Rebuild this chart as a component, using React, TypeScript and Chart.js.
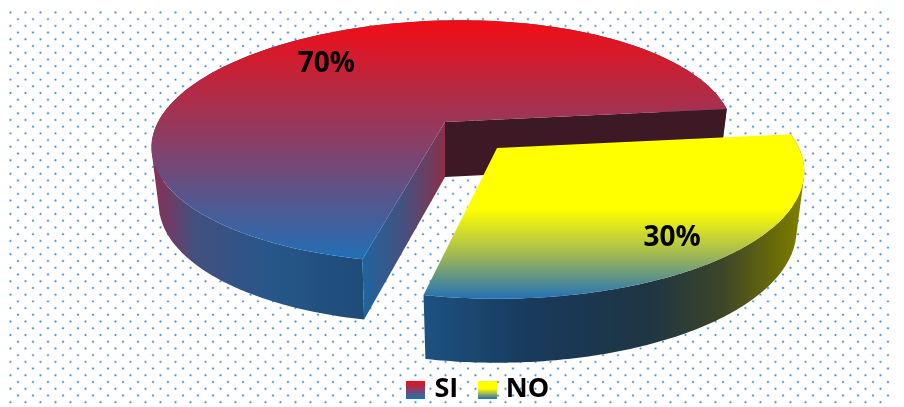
import React, { useEffect, useRef } from "react";
import { Chart, registerables } from "chart.js";

Chart.register(...registerables);

const categories = ["SI", "NO"];
const shares = [70, 30];
const labelReach = [0.72, 0.8];
const labelNudgeX = [2, -8];
const labelNudgeY = [0, 9];

const FONT = '"Open Sans", "Noto Sans", sans-serif';

type Stop = [number, string];
type Pt = { x: number; y: number };

// Perspective projection of the unit circle of each slice on to the page
const slices = [
  { cx: 445, cy: 122, rx: 287, ry: 118, tilt: 0.16, shear: -15, floorDrop: 55, floorGrow: 5.5 },
  { cx: 497, cy: 148, rx: 302, ry: 123, tilt: 0.184, shear: 0, floorDrop: 57, floorGrow: 7 },
];
const project = (s: any, ux: number, uy: number, floor: boolean): Pt => {
  const w = 1 - s.tilt * uy;
  const k = floor ? 0.975 : 1;
  const drop = floor ? s.floorDrop + s.floorGrow * uy : 0;
  return { x: s.cx + (k * s.rx * ux) / w + s.shear * uy, y: s.cy + (s.ry * uy) / w + drop };
};
const rim = (s: any, a0: number, a1: number, floor: boolean) => {
  const pts: Pt[] = [];
  const n = 160;
  for (let i = 0; i <= n; i++) {
    const a = a0 + ((a1 - a0) * i) / n;
    pts.push(project(s, Math.cos(a), Math.sin(a), floor));
  }
  return pts;
};

const grad = (ctx: CanvasRenderingContext2D, x0: number, y0: number, x1: number, y1: number, stops: Stop[]) => {
  const g = ctx.createLinearGradient(x0, y0, x1, y1);
  stops.forEach(([o, c]) => g.addColorStop(o, c));
  return g;
};
const fillPoly = (ctx: CanvasRenderingContext2D, pts: Pt[], fill: any) => {
  ctx.beginPath();
  pts.forEach((p, i) => (i ? ctx.lineTo(p.x, p.y) : ctx.moveTo(p.x, p.y)));
  ctx.closePath();
  ctx.fillStyle = fill;
  ctx.fill();
};
// the wall swept between the top rim and the floor rim
const fillWall = (ctx: CanvasRenderingContext2D, top: Pt[], floor: Pt[], fill: any) => {
  ctx.beginPath();
  for (let i = 0; i < top.length - 1; i++) {
    let q = [top[i], top[i + 1], floor[i + 1], floor[i]];
    let area = 0;
    q.forEach((p, j) => {
      const n = q[(j + 1) % 4];
      area += p.x * n.y - n.x * p.y;
    });
    if (area < 0) q = q.reverse();
    q.forEach((p, j) => (j ? ctx.lineTo(p.x, p.y) : ctx.moveTo(p.x, p.y)));
    ctx.closePath();
  }
  ctx.fillStyle = fill;
  ctx.fill("nonzero");
};

const redTop: Stop[] = [[0, "#f80a10"], [1, "#1f70b8"]];
const yellowTop: Stop[] = [[0, "#ffff00"], [0.45, "#ffff00"], [0.72, "#a6bb50"], [1, "#2472b4"]];

const swatch = (stops: Stop[]) => {
  const c = document.createElement("canvas");
  c.width = 19;
  c.height = 18;
  const x = c.getContext("2d")!;
  x.fillStyle = grad(x, 0, 0, 0, 18, stops);
  x.fillRect(0, 0, 19, 18);
  return c;
};

const dotBackground = {
  id: "dotBackground",
  beforeDraw(chart: any) {
    const ctx: CanvasRenderingContext2D = chart.ctx;
    ctx.save();
    let row = 0;
    for (let y = 12.4; y < 404; y += 6.72, row++) {
      for (let x = row % 2 ? 18 : 10.5; x < 890; x += 15) {
        ctx.beginPath();
        ctx.arc(x, y, 1.8, 0, Math.PI * 2);
        ctx.fillStyle = "rgba(120,170,225,0.2)";
        ctx.fill();
        ctx.beginPath();
        ctx.arc(x, y, 0.95, 0, Math.PI * 2);
        ctx.fillStyle = "#4a8cd0";
        ctx.fill();
      }
    }
    ctx.restore();
  },
};

const pie3d = {
  id: "pie3d",
  beforeDatasetsDraw(chart: any) {
    const ctx: CanvasRenderingContext2D = chart.ctx;
    const arcs = chart.getDatasetMeta(0).data;
    const [red, yellow] = slices;
    const r0 = arcs[0].startAngle, r1 = arcs[0].endAngle;
    const y0 = arcs[1].startAngle, y1 = arcs[1].endAngle;
    ctx.save();

    // red slice: outer wall, cut faces, top
    const rTop = rim(red, r0, r1, false);
    const rFloor = rim(red, r0, r1, true);
    fillWall(ctx, rTop, rFloor, grad(ctx, 152, 0, 366, 0, [
      [0, "#8a2f55"], [0.2, "#43507f"], [0.55, "#27568a"], [1, "#1d4c78"],
    ]));
    const apex = project(red, 0, 0, false);
    const apexFloor = project(red, 0, 0, true);
    fillPoly(ctx, [apex, rTop[rTop.length - 1], rFloor[rFloor.length - 1], apexFloor], "#3d1825");
    fillPoly(ctx, [apex, rTop[0], rFloor[0], apexFloor], grad(ctx, 364, 0, 445, 0, [
      [0, "#20649e"], [0.5, "#46507f"], [1, "#8a3048"],
    ]));
    fillPoly(ctx, [apex, ...rTop], grad(ctx, 0, 14, 0, 262, redTop));

    // yellow slice: outer wall, top
    const yTop = rim(yellow, y0, y1, false);
    const yFloor = rim(yellow, y0, y1, true);
    fillWall(ctx, yTop, yFloor, grad(ctx, 426, 0, 800, 0, [
      [0, "#1d5180"], [0.28, "#183a5c"], [0.6, "#1f3542"], [0.79, "#3c4528"], [0.93, "#686a08"], [1, "#7d7d00"],
    ]));
    fillPoly(ctx, [project(yellow, 0, 0, false), ...yTop], grad(ctx, 0, 137, 0, 298, yellowTop));

    // percentage labels
    ctx.fillStyle = "#000";
    ctx.font = `700 28px ${FONT}`;
    ctx.textAlign = "center";
    ctx.textBaseline = "middle";
    arcs.forEach((arc: any, i: number) => {
      const mid = (arc.startAngle + arc.endAngle) / 2;
      const r = labelReach[i];
      const p = project(slices[i], r * Math.cos(mid), r * Math.sin(mid), false);
      ctx.fillText(`${shares[i]}%`, p.x + labelNudgeX[i], p.y + labelNudgeY[i]);
    });
    ctx.restore();
    return false;
  },
};

export default function App() {
  const ref = useRef<HTMLCanvasElement>(null);
  useEffect(() => {
    document.body.style.margin = "0";
    document.body.style.background = "#fff";
    const swatches = [swatch(redTop), swatch(yellowTop)];
    const chart = new Chart(ref.current!, {
      type: "pie",
      data: {
        labels: categories,
        datasets: [{ data: shares, backgroundColor: ["#b0283c", "#ffff00"], borderWidth: 0 }],
      },
      options: {
        animation: false,
        responsive: false,
        rotation: 191.5,
        layout: { padding: { bottom: -6, left: 56 } },
        plugins: {
          tooltip: { enabled: false },
          legend: {
            position: "bottom",
            labels: {
              usePointStyle: true,
              pointStyleWidth: 10,
              padding: 24,
              color: "#000",
              font: { family: FONT, size: 27, weight: "700" },
              generateLabels: () =>
                categories.map((text, i) => ({
                  text,
                  pointStyle: swatches[i],
                  fillStyle: "#fff",
                  strokeStyle: "#fff",
                  lineWidth: 0,
                  datasetIndex: 0,
                  index: i,
                })),
            },
          },
        },
      },
      plugins: [dotBackground, pie3d],
    } as any);
    return () => chart.destroy();
  }, []);
  return <canvas ref={ref} width={904} height={407} style={{ display: "block" }} />;
}
